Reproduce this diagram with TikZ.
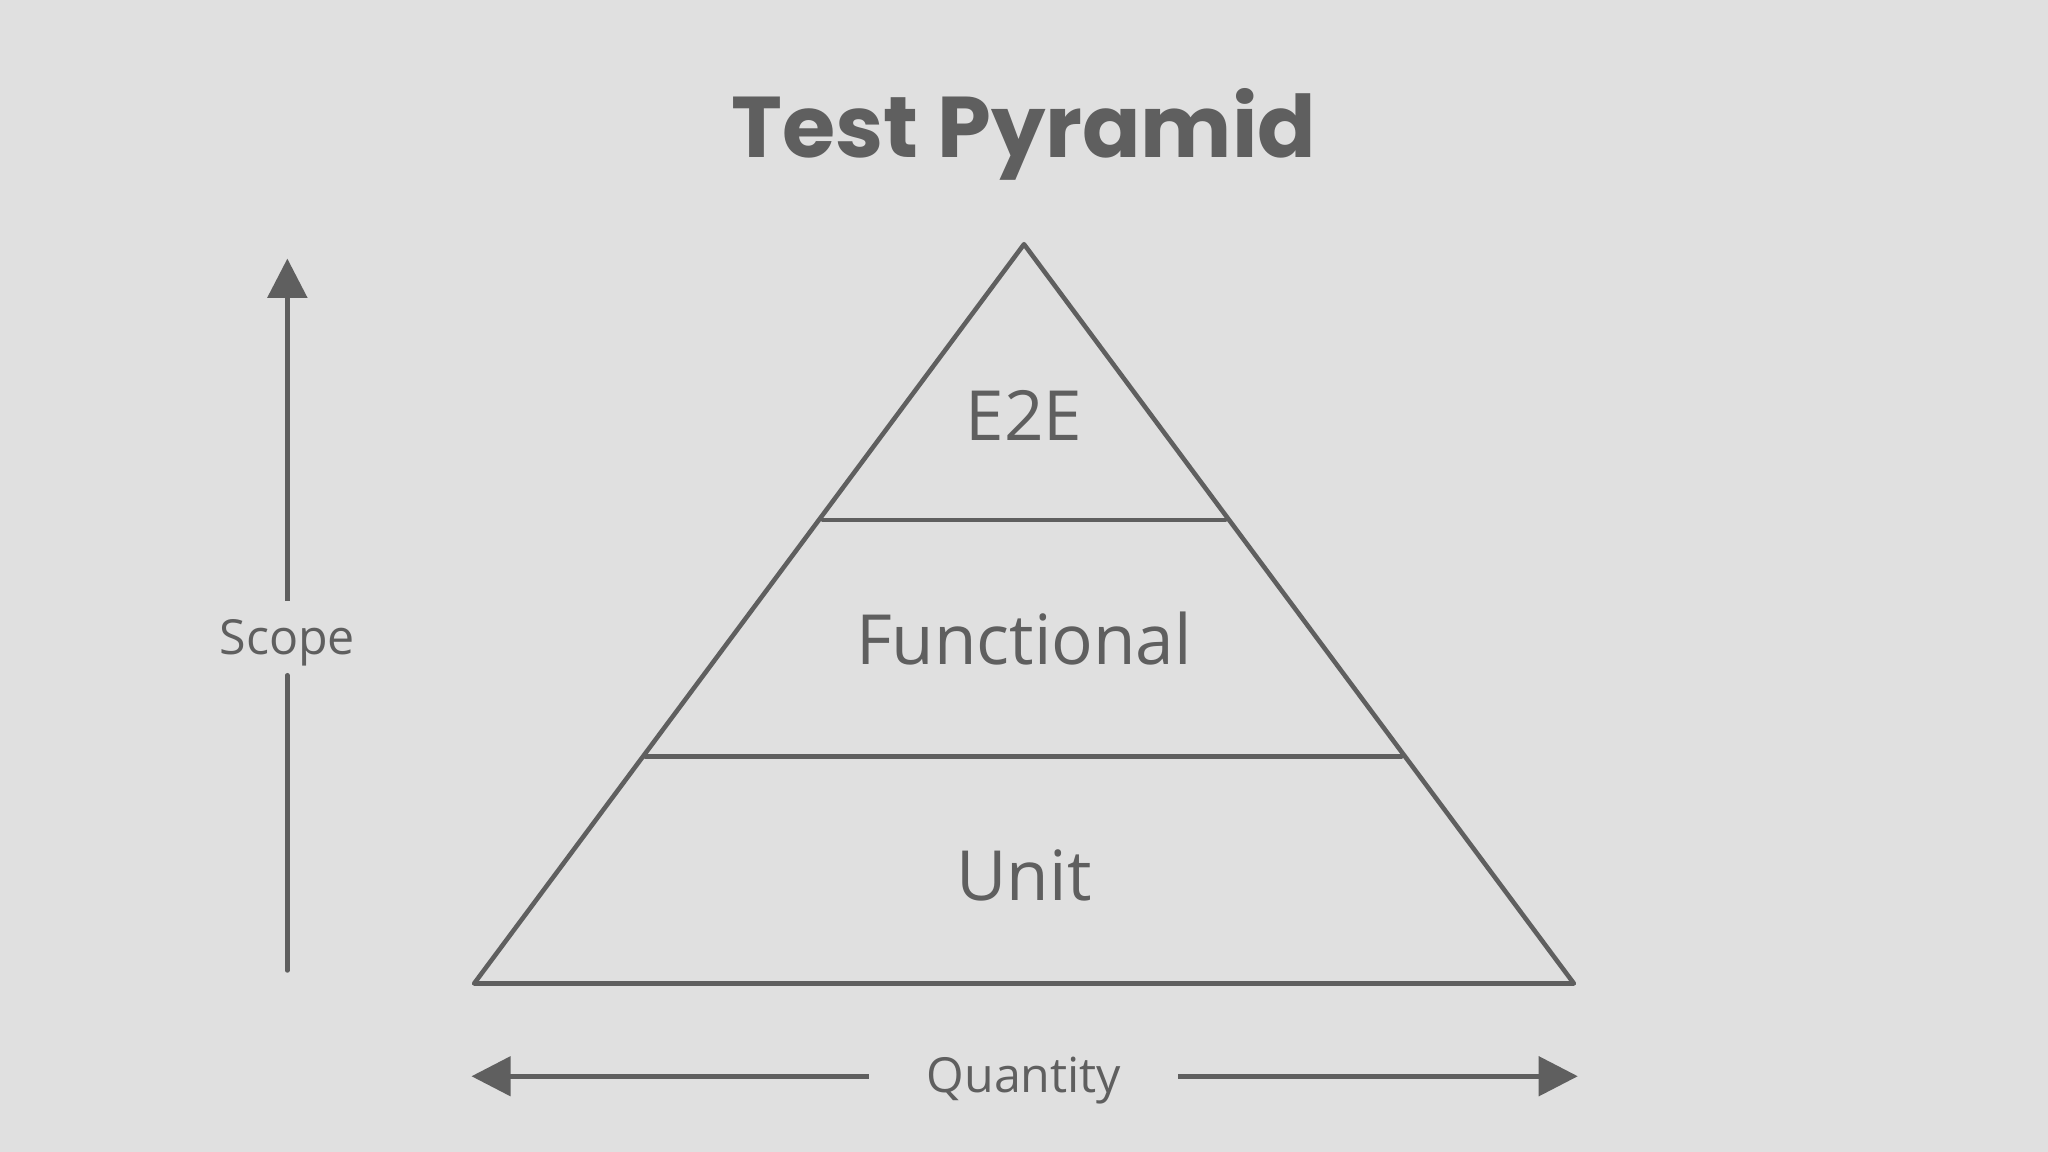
\documentclass[tikz,border=0pt]{standalone}
\usepackage{fontspec}
\setmainfont{Open Sans}
\newfontfamily\titlefont{Poppins}
\usetikzlibrary{arrows.meta}
\definecolor{bg}{HTML}{E0E0E0}
\definecolor{ink}{HTML}{5F5F5F}
\begin{document}
\begin{tikzpicture}[x=1pt,y=-1pt,
  ln/.style={draw=ink,line width=3.5pt,line cap=round,line join=round},
  arr/.style={draw=ink,line width=3.5pt,-{Triangle[length=30pt,width=30pt]}},
  lbl/.style={text=ink,font=\fontsize{53}{60}\selectfont,inner sep=0pt,anchor=center},
  axl/.style={text=ink,font=\fontsize{37}{42}\selectfont,inner sep=0pt,anchor=center}]
\fill[bg] (0,0) rectangle (1568,882);
\useasboundingbox (0,0) rectangle (1568,882);
\node[text=ink,font=\titlefont\bfseries\fontsize{66}{70}\selectfont,inner sep=0pt] (title) at (784,103) {Test Pyramid};
\coordinate (top) at (784,187);
\coordinate (bl) at (363,753);
\coordinate (br) at (1205,753);
\draw[ln] (top) -- (bl) -- (br) -- cycle;
\coordinate (l1) at (630,398); \coordinate (r1) at (938,398);
\coordinate (l2) at (494,579); \coordinate (r2) at (1073,579);
\draw[ln] (l1) -- (r1);
\draw[ln] (l2) -- (r2);
\node[lbl] (e2e) at (784,318) {E2E};
\node[lbl] (func) at (784,489) {Functional};
\node[lbl] (unit) at (784,670) {Unit};
\node[axl] (scope) at (220,492) {Scope};
\coordinate (s0) at (220,743); \coordinate (s1) at (220,517);
\coordinate (s2) at (220,460); \coordinate (s3) at (220,198);
\draw[ln] (s0) -- (s1);
\draw[arr] (s2) -- (s3);
\node[axl] (qty) at (784,827) {Quantity};
\coordinate (q0) at (665,824); \coordinate (q1) at (361,824);
\coordinate (q2) at (902,824); \coordinate (q3) at (1208,824);
\draw[arr] (q0) -- (q1);
\draw[arr] (q2) -- (q3);
\end{tikzpicture}
\end{document}
